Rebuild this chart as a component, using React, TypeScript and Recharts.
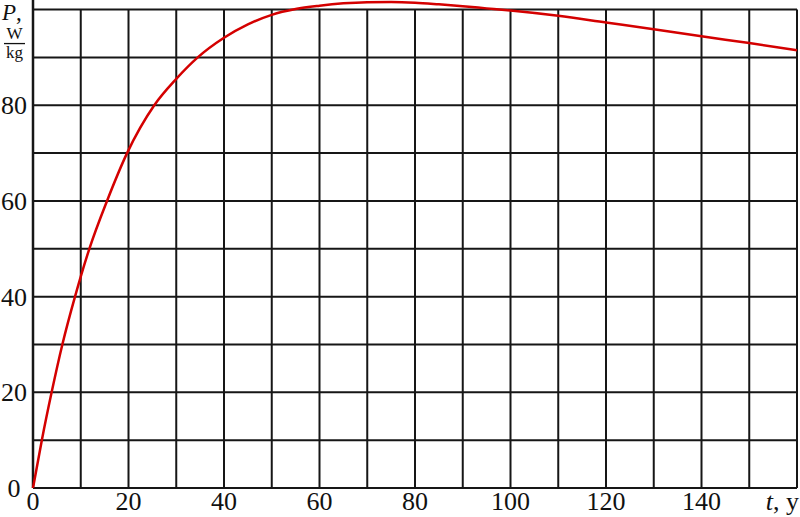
import { LineChart, Line, XAxis, YAxis, ReferenceLine } from "recharts";

// t (years) and P (W/kg)
const years = [0, 1.85, 3.9, 6.15, 8.8, 11.8, 15.5, 19.7, 25.4, 30, 34.5, 40, 45, 50, 55, 60, 65, 70, 75, 80, 85, 90, 95, 100, 110, 120, 130, 140, 150, 160];
const power = [0, 10, 20, 30, 40, 50, 60, 70, 80, 85.5, 90, 94.1, 96.9, 98.9, 100.1, 100.8, 101.3, 101.55, 101.6, 101.45, 101.1, 100.7, 100.25, 99.8, 98.7, 97.3, 95.9, 94.4, 93.0, 91.5];

const xTicks = [0, 20, 40, 60, 80, 100, 120, 140, 160];
const yTicks = [0, 20, 40, 60, 80, 100];
const xGrid = [10, 20, 30, 40, 50, 60, 70, 80, 90, 100, 110, 120, 130, 140, 150, 160];
const yGrid = [0, 10, 20, 30, 40, 50, 60, 70, 80, 90, 100];

const data = years.map((t, i) => ({ t, p: power[i] }));

const FONT = "'Liberation Serif', 'DejaVu Serif', serif";
const GRID = "#161616";

function XTick(props: any) {
  const { x, y, payload } = props;
  if (payload.value === 160) {
    return (
      <text x={x + 2} y={y + 22} textAnchor="end" fontFamily={FONT} fontSize={26} fill="#111">
        <tspan fontStyle="italic">t</tspan>, y
      </text>
    );
  }
  return (
    <text x={x} y={y + 22} textAnchor="middle" fontFamily={FONT} fontSize={26} fill="#111">
      {payload.value}
    </text>
  );
}

function YTick(props: any) {
  const { y, payload } = props;
  if (payload.value === 100) {
    // axis title sits where the 100 label would be
    return (
      <g fontFamily={FONT} fill="#111">
        <text x={2} y={y + 10} fontSize={23}>
          <tspan fontStyle="italic">P</tspan>,
        </text>
        <text x={14.5} y={y + 29} fontSize={17} textAnchor="middle">W</text>
        <line x1={4} x2={25} y1={y + 34} y2={y + 34} stroke="#111" strokeWidth={1.3} />
        <text x={14.5} y={y + 48} fontSize={17} textAnchor="middle">kg</text>
      </g>
    );
  }
  return (
    <text x={14} y={y + 9} textAnchor="middle" fontFamily={FONT} fontSize={26} fill="#111">
      {payload.value}
    </text>
  );
}

export default function App() {
  return (
    <div style={{ position: "absolute", left: 0, top: 0, background: "#fff" }}>
      <LineChart width={800} height={517} data={data} margin={{ top: 0, right: 3, bottom: 0, left: 0 }}>
        <XAxis
          dataKey="t"
          type="number"
          domain={[0, 160]}
          ticks={xTicks}
          interval={0}
          height={29}
          tickLine={false}
          axisLine={false}
          tickSize={0}
          tickMargin={0}
          tick={<XTick />}
        />
        <YAxis
          type="number"
          domain={[0, 102]}
          ticks={yTicks}
          interval={0}
          width={33}
          tickLine={false}
          axisLine={false}
          tickSize={0}
          tickMargin={0}
          tick={<YTick />}
        />
        {yGrid.map((v) => (
          <ReferenceLine key={"h" + v} y={v} stroke={GRID} strokeWidth={2} />
        ))}
        {xGrid.map((v) => (
          <ReferenceLine key={"v" + v} segment={[{ x: v, y: 0 }, { x: v, y: 100 }]} stroke={GRID} strokeWidth={2} />
        ))}
        <ReferenceLine x={0} stroke={GRID} strokeWidth={2.5} />
        <Line
          dataKey="p"
          type="monotone"
          stroke="#d40000"
          strokeWidth={2.5}
          dot={false}
          isAnimationActive={false}
        />
      </LineChart>
    </div>
  );
}
